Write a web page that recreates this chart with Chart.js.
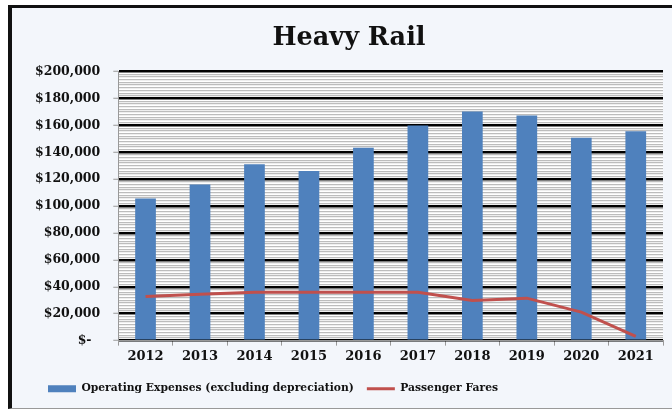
<!DOCTYPE html>
<html>
<head>
<meta charset="utf-8">
<script src="https://cdn.jsdelivr.net/npm/chart.js@4/dist/chart.umd.min.js"></script>
<style>
  html, body { margin: 0; padding: 0; background: #fff; }
  #frame {
    position: absolute; left: 8px; top: 5px; width: 700px; height: 404px;
    border-left: 4px solid #111; border-top: 3px solid #111; border-bottom: 1px solid #999;
    background: #f3f6fb; box-sizing: border-box;
  }
  #wrap { position: absolute; left: 0; top: 0; width: 672px; height: 411px; }
</style>
</head>
<body>
<div id="frame"></div>
<div id="wrap"><canvas id="chart" width="672" height="411"></canvas></div>
<script>
// data
const years = ['2012', '2013', '2014', '2015', '2016', '2017', '2018', '2019', '2020', '2021'];
const operatingExpenses = [105600, 116000, 131100, 126200, 143400, 160000, 170400, 167400, 150800, 155600];
const passengerFares = [32800, 34500, 36000, 36000, 36000, 36000, 29900, 31600, 21200, 3200];
const yMax = 200000;
const majorStep = 20000;
const minorStep = 2000;

// $200,000 style labels, Excel accounting zero shows as "$-"
// trailing spaces keep the gap to the axis (like Excel's accounting format)
function money(v) {
  if (v === 0) return '$-     ';
  return '$' + v.toLocaleString('en-US') + '   ';
}

const serif = "'DejaVu Serif', serif";

// white plot area behind the grid
const plotBg = {
  id: 'plotBg',
  beforeDraw(chart) {
    const a = chart.chartArea, ctx = chart.ctx;
    ctx.save();
    ctx.fillStyle = '#ffffff';
    ctx.fillRect(a.left, a.top, a.right - a.left, a.bottom - a.top);
    ctx.restore();
  }
};

new Chart(document.getElementById('chart'), {
  data: {
    labels: years,
    datasets: [{
      type: 'bar',
      label: 'Operating Expenses (excluding depreciation)',
      data: operatingExpenses,
      backgroundColor: '#4f81bd',
      borderWidth: 0,
      barPercentage: 0.38,
      categoryPercentage: 1,
      order: 2
    }, {
      type: 'line',
      label: 'Passenger Fares',
      data: passengerFares,
      borderColor: '#c0504d',
      backgroundColor: '#c0504d',
      borderWidth: 3,
      pointRadius: 0,
      tension: 0,
      order: 1
    }]
  },
  options: {
    responsive: false,
    animation: false,
    layout: { padding: { left: 35, right: 9, top: 12, bottom: 7 } },
    scales: {
      x: {
        grid: {
          offset: true,
          drawOnChartArea: false,
          tickLength: 5,
          color: '#999'
        },
        border: { color: '#999', width: 1 },
        ticks: {
          color: '#111',
          maxRotation: 0,
          autoSkip: false,
          font: { family: serif, size: 13, weight: 'bold' },
          padding: 3
        },
        afterFit: (scale) => { scale.height += 3; } // gap before the legend
      },
      y: {
        min: 0,
        max: yMax,
        grid: {
          color: (c) => c.tick.value % majorStep === 0 ? '#000' : '#bcbcbc',
          lineWidth: (c) => c.tick.value % majorStep === 0 ? 2.5 : 1.2,
          tickColor: (c) => c.tick.value % majorStep === 0 ? '#999' : 'rgba(0,0,0,0)',
          tickLength: 5,
          tickWidth: 1
        },
        border: { color: '#999', width: 1 },
        ticks: {
          stepSize: minorStep,
          maxTicksLimit: 200,
          autoSkip: false,
          color: '#111',
          font: { family: serif, size: 12.5, weight: 'bold' },
          padding: 0,
          callback: (v) => v % majorStep === 0 ? money(v) : ''
        }
      }
    },
    plugins: {
      title: {
        display: true,
        text: 'Heavy Rail',
        color: '#111',
        font: { family: serif, size: 25.5, weight: 'bold' },
        padding: { top: 11, bottom: 18 }
      },
      legend: {
        position: 'bottom',
        align: 'start',
        labels: {
          color: '#111',
          font: { family: serif, size: 10.75, weight: 'bold' },
          usePointStyle: true,
          pointStyleWidth: 28,
          boxWidth: 28,
          boxHeight: 7,
          padding: 13,
          generateLabels(chart) {
            const items = Chart.defaults.plugins.legend.labels.generateLabels(chart);
            items.sort((a, b) => a.datasetIndex - b.datasetIndex);
            items.forEach((it) => {
              if (it.datasetIndex === 0) {
                it.pointStyle = 'rect';
                it.lineWidth = 0;
              } else {
                it.pointStyle = 'line';
                it.lineWidth = 3;
              }
            });
            return items;
          }
        }
      },
      tooltip: { enabled: false }
    }
  },
  plugins: [plotBg]
});
</script>
</body>
</html>
